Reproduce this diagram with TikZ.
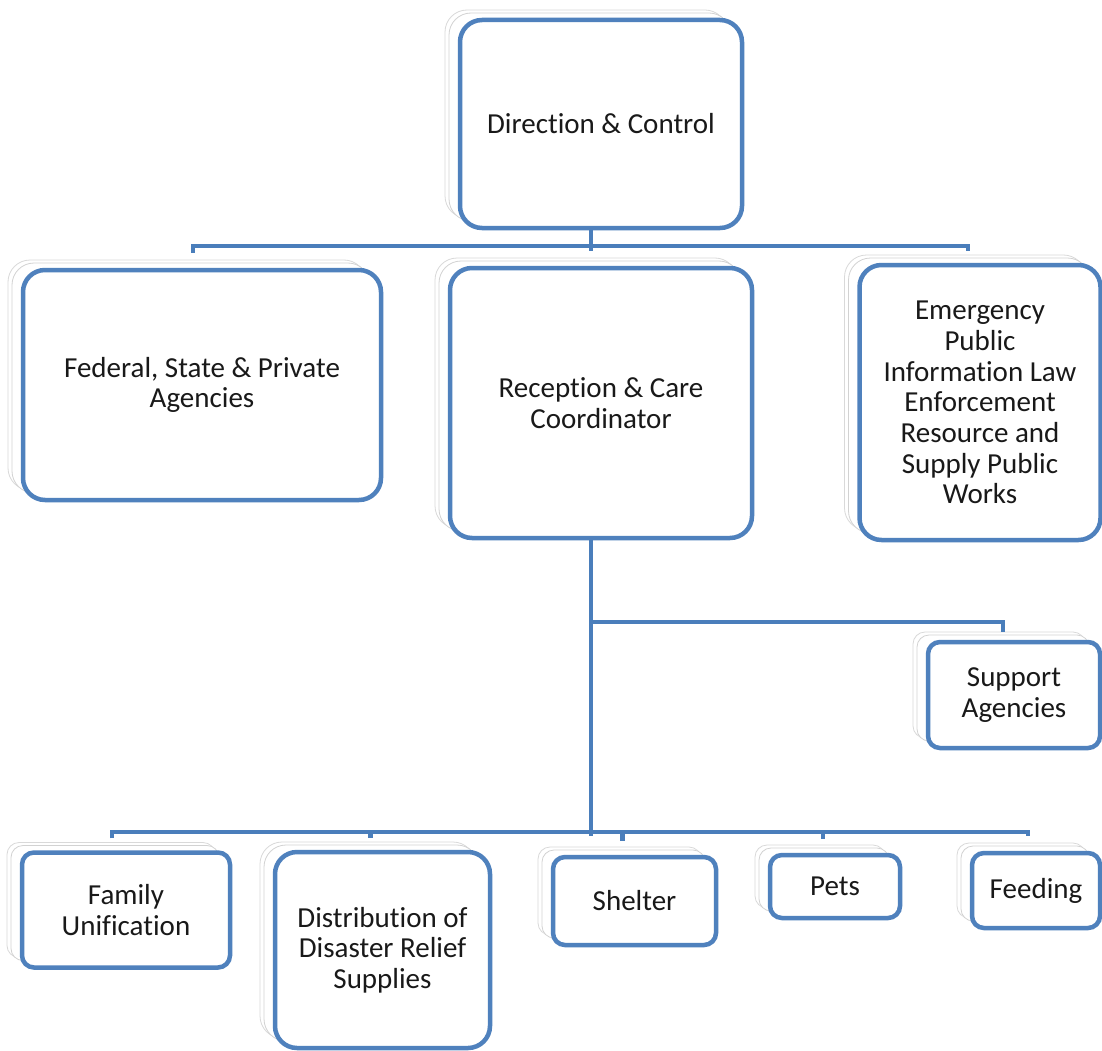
\documentclass[tikz,border=0pt]{standalone}
\usepackage{fontspec}
\setmainfont{Carlito}[Ligatures={NoCommon}]
\usetikzlibrary{calc,shadows}
\definecolor{bord}{HTML}{4F81BD}
\definecolor{conncol}{HTML}{4A7EBB}
\tikzset{
  orgbox/.style={draw=bord, line width=4.5pt, fill=white, rounded corners=22pt,
    align=center, inner sep=0pt, text=black!90,
    font=\fontsize{29}{30.7}\selectfont,
    copy shadow={shadow xshift=-15pt, shadow yshift=10pt, draw=gray!30, line width=0.8pt, fill=white},
    copy shadow={shadow xshift=-11pt, shadow yshift=7pt, draw=gray!35, line width=0.8pt, fill=white}},
  smallbox/.style={orgbox, rounded corners=12pt},
  conn/.style={draw=conncol, line width=4.3pt}
}
\begin{document}
\begin{tikzpicture}[x=1pt, y=-1pt]
\useasboundingbox[fill=white] (0,0) rectangle (1102,1051);
% top level
\node[orgbox, minimum width=282pt, minimum height=208pt] (dc) at (601,124) {Direction \& Control};
% second level
\node[orgbox, minimum width=358pt, minimum height=230pt] (fed) at (202,385) {Federal, State \& Private\\Agencies};
\node[orgbox, minimum width=302pt, minimum height=270pt] (rec) at (601,403) {Reception \& Care\\Coordinator};
\node[orgbox, minimum width=241pt, minimum height=275pt] (emg) at (980,402.5) {Emergency\\Public\\Information Law\\Enforcement\\Resource and\\Supply Public\\Works};
% support
\node[smallbox, minimum width=172pt, minimum height=106pt] (sup) at (1014,695) {Support\\Agencies};
% bottom level
\node[smallbox, minimum width=208pt, minimum height=115pt] (fam) at (126,910) {Family\\Unification};
\node[orgbox, minimum width=215pt, minimum height=196pt] (dist) at (382.5,950) {Distribution of\\Disaster Relief\\Supplies};
\node[smallbox, minimum width=163pt, minimum height=88pt] (shel) at (634.5,901) {Shelter};
\node[smallbox, minimum width=130pt, minimum height=63pt] (pets) at (835,886.5) {Pets};
\node[smallbox, minimum width=128pt, minimum height=75pt] (feed) at (1036,890.5) {Feeding};
% connectors top
\coordinate (tb) at (591,246);
\draw[conn] ($(dc.south)+(-10,0)$) -- (tb);
\draw[conn] ($(fed.north)+(-9,-15)$) |- (tb) -| ($(emg.north)+(-12,-12)$);
\draw[conn] (tb) -- ($(rec.north)+(-10,-15)$);
% main vertical
\coordinate (bb) at (591,832);
\coordinate (sj) at (591,622);
\draw[conn] ($(rec.south)+(-10,0)$) -- ($(bb)+(0,4)$);
\draw[conn] (sj) -| ($(sup.north)+(-11,-8)$);
% bottom bus
\draw[conn] ($(fam.north)+(-14,-12)$) |- (bb) -| ($(feed.north)+(-8,-15)$);
\path ($(dist.north)+(-12,-12)$) coordinate (dd)
      ($(shel.north)+(-12,-14)$) coordinate (sd)
      ($(pets.north)+(-12,-14)$) coordinate (pd);
\draw[conn] (dd) -- (dd |- bb);
\draw[conn] (sd) -- (sd |- bb);
\draw[conn] (pd) -- (pd |- bb);
\end{tikzpicture}
\end{document}
